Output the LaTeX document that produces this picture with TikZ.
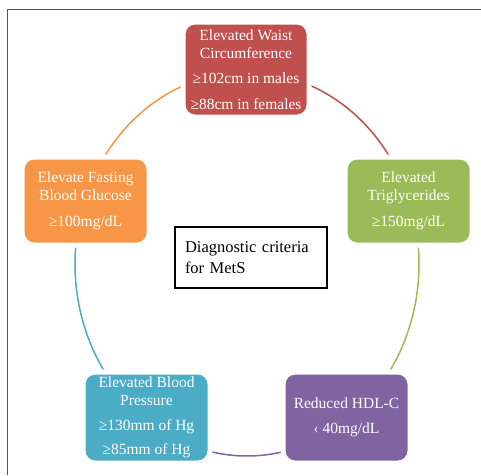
\documentclass[tikz,border=0pt]{standalone}
\usepackage{fontspec}
\setmainfont{Liberation Serif}
\definecolor{cred}{RGB}{192,80,77}
\definecolor{cgreen}{RGB}{155,187,89}
\definecolor{cpurple}{RGB}{128,100,162}
\definecolor{cblue}{RGB}{75,172,198}
\definecolor{corange}{RGB}{247,150,70}
\definecolor{frame}{RGB}{85,85,85}
\begin{document}
\begin{tikzpicture}[x=1pt,y=-1pt,
  crit/.style={rounded corners=12pt, draw=white, line width=5pt, text=white,
    align=center, inner sep=0pt, font=\fontsize{15.5}{17.5}\selectfont},
  arcline/.style={line width=1.5pt}]
\useasboundingbox (0,0) rectangle (481,475);
\draw[line width=1pt, frame] (7.5,475) -- (7.5,9.5) -- (481,9.5);
% cycle arcs (ellipse segments)
\foreach \a/\b/\c in {19/90/cred, -54/19/cgreen, -126/-54/cpurple, -199/-126/cblue, 90/161/corange}
  \draw[arcline,\c] plot[domain=\a:\b, samples=60, smooth] ({247+172*cos(\x)},{264-192*sin(\x)});
% criteria boxes
\node[crit, fill=cred, minimum width=126pt, minimum height=95pt] (waist) at (246,69.5)
  {Elevated Waist\\Circumference\\[8pt]≥102cm in males\\[8pt]≥88cm in females};
\node[crit, fill=cgreen, minimum width=127pt, minimum height=88pt] (trig) at (408.5,201)
  {Elevated\\Triglycerides\\[9pt]≥150mg/dL};
\node[crit, fill=corange, minimum width=127pt, minimum height=88pt] (gluc) at (85.5,201)
  {Elevate Fasting\\Blood Glucose\\[9pt]≥100mg/dL};
\node[crit, fill=cblue, minimum width=127pt, minimum height=91pt] (bp) at (146.5,417.5)
  {Elevated Blood\\Pressure\\[8pt]≥130mm of Hg\\[6pt]≥85mm of Hg};
\node[crit, fill=cpurple, minimum width=127pt, minimum height=91pt] (hdl) at (346.5,417.5)
  {Reduced HDL-C\\[7pt]‹ 40mg/dL};
% centre label
\node[draw=black, line width=1.3pt, minimum width=152pt, minimum height=61pt,
  text width=132pt, align=left, inner xsep=10pt,
  font=\fontsize{16.5}{21}\selectfont]
  (dx) at (251,257.5) {\mbox{Diagnostic criteria}\\for MetS};
\end{tikzpicture}
\end{document}
